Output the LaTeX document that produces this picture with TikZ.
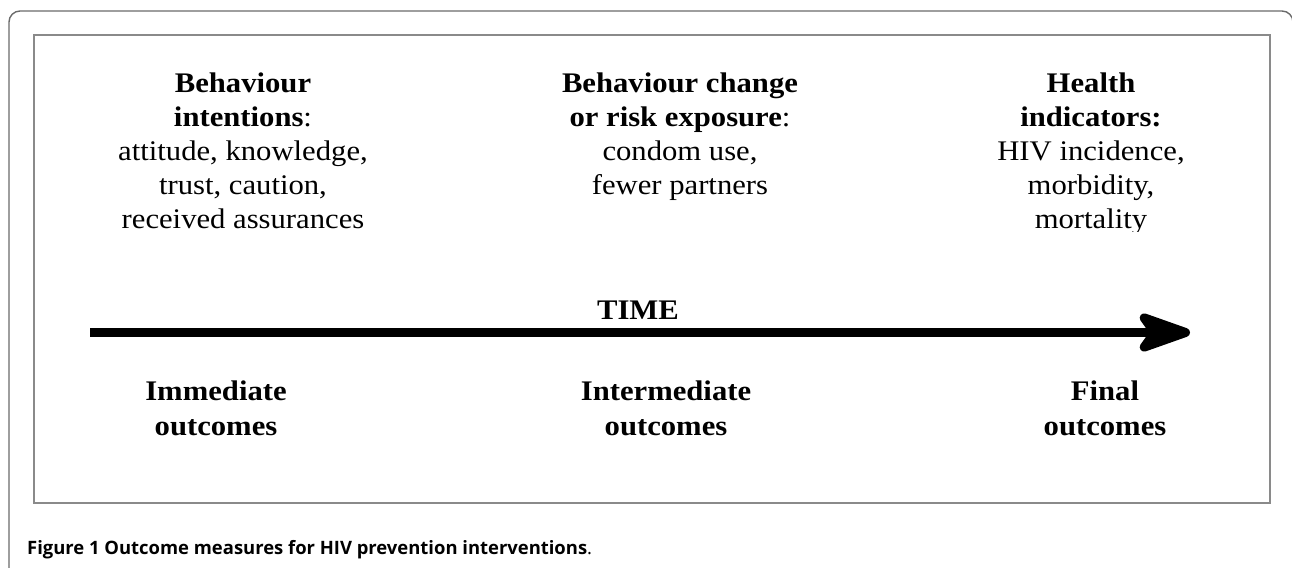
\documentclass[tikz,border=0pt]{standalone}
\usepackage{fontspec}
\setmainfont{Liberation Serif}[FakeStretch=1.08]
\newfontfamily\capfont{Open Sans}
\usetikzlibrary{arrows.meta}
\definecolor{outergray}{HTML}{6A6A6A}
\definecolor{innergray}{HTML}{8A8A8A}
\tikzset{
  txt/.style={anchor=north, inner sep=0pt, align=center, font=\fontsize{28.5}{34}\selectfont},
  lbl/.style={txt, font=\fontsize{28.5}{35}\selectfont\bfseries},
  timearrow/.style={line width=9bp, -{Stealth[length=66bp, width=46bp, inset=16bp, round]}},
}
\begin{document}
\begin{tikzpicture}[x=1bp, y=-1bp]
\useasboundingbox (0,0) rectangle (1292,568);
\begin{scope}
\clip (0,0) rectangle (1292,568);
\draw[outergray, line width=1.4bp, rounded corners=11bp] (9,575) -- (9,11) -- (1293,11) -- (1293,575);
\end{scope}
\draw[innergray, line width=2.5bp] (34,35) rectangle (1270,503);

\node[txt] (imm) at (243,73) {\textbf{Behaviour}\\ \textbf{intentions}:\\ attitude, knowledge,\\ trust, caution,\\ received assurances};
\node[txt] (inter) at (680,73) {\textbf{Behaviour change}\\ \textbf{or risk exposure}:\\ condom use,\\ fewer partners};
\begin{scope}
\clip (900,40) rectangle (1260,232);
\node[txt] (health) at (1091,73) {\textbf{Health}\\ \textbf{indicators:}\\ HIV incidence,\\ morbidity,\\ mortality};
\end{scope}

\node[anchor=base, inner sep=0pt, font=\fontsize{28.5}{34}\selectfont\bfseries] (time) at (638,320) {TIME};
\coordinate (tstart) at (90,332.5);
\coordinate (tend) at (1190,332.5);
\draw[timearrow] (tstart) -- (tend);

\node[lbl] (immo) at (216,381) {Immediate\\outcomes};
\node[lbl] (intero) at (666,381) {Intermediate\\outcomes};
\node[lbl] (finalo) at (1105,381) {Final\\outcomes};

\node[anchor=base west, inner sep=0pt, font=\capfont\bfseries\fontsize{18.5}{22}\selectfont] (cap) at (27,554) {Figure 1 Outcome measures for HIV prevention interventions{\mdseries .}};
\end{tikzpicture}
\end{document}
